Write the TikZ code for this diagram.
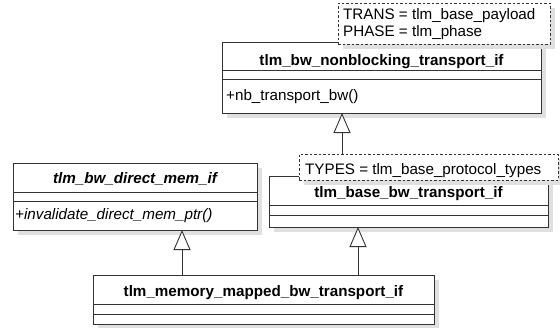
\documentclass[tikz,border=0pt]{standalone}
\usepackage{fontspec}
\setmainfont{Liberation Sans}
\usetikzlibrary{shadows,arrows.meta}
\definecolor{linec}{HTML}{333333}
\begin{document}
\begin{tikzpicture}[x=1pt,y=-1pt,
  font=\fontsize{15.2}{17}\selectfont,
  classbox/.style={draw=linec, fill=white, line width=0.9pt, inner sep=0pt, outer sep=0pt, anchor=north west,
    drop shadow={shadow xshift=5pt, shadow yshift=-5pt, fill=black!12, opacity=1}},
  notebox/.style={classbox, dashed, dash pattern=on 2.5pt off 2pt},
  sepline/.style={draw=linec, line width=0.9pt},
  ctitle/.style={font=\fontsize{15.2}{17}\selectfont\bfseries, inner sep=0pt, anchor=base},
  ctxt/.style={inner sep=0pt, anchor=base west},
  inherit/.style={draw=linec, line width=0.9pt, -{Triangle[open, length=20pt, width=17pt, fill=white]}}
]
\useasboundingbox (0,0) rectangle (560,327);

% tlm_bw_nonblocking_transport_if
\node[classbox, minimum width=319pt, minimum height=71pt] (nb) at (222,42) {};
\draw[sepline] (nb.west |- 0,70) -- (nb.east |- 0,70);
\draw[sepline] (nb.west |- 0,79) -- (nb.east |- 0,79);
\node[notebox, minimum width=212pt, minimum height=41pt] (n1) at (338,3) {};
\node[ctitle] (nbt) at (nb.north |- 0,65) {tlm\_bw\_nonblocking\_transport\_if};
\node[ctxt] (nbm) at (226,100) {+nb\_transport\_bw()};
\node[ctxt, align=left, anchor=north west] (n1t) at (343,8) {TRANS = tlm\_base\_payload\\PHASE = tlm\_phase};

% tlm_bw_direct_mem_if
\node[classbox, minimum width=244pt, minimum height=67pt] (dm) at (13,163) {};
\draw[sepline] (dm.west |- 0,192) -- (dm.east |- 0,192);
\draw[sepline] (dm.west |- 0,201) -- (dm.east |- 0,201);
\node[ctitle, font=\fontsize{15.2}{17}\selectfont\bfseries\itshape] (dmt) at (dm.north |- 0,183) {tlm\_bw\_direct\_mem\_if};
\node[ctxt, font=\fontsize{15.2}{17}\selectfont\itshape] (dmm) at (15,219) {+invalidate\_direct\_mem\_ptr()};

% tlm_base_bw_transport_if
\node[classbox, minimum width=279pt, minimum height=51pt] (bt) at (269,176) {};
\draw[sepline] (bt.west |- 0,205) -- (bt.east |- 0,205);
\draw[sepline] (bt.west |- 0,215) -- (bt.east |- 0,215);
\node[notebox, minimum width=259pt, minimum height=26pt] (n2) at (299,154) {};
\node[ctitle] (btt) at (bt.north |- 0,197) {tlm\_base\_bw\_transport\_if};
\node[ctxt] (n2t) at (305,174) {TYPES = tlm\_base\_protocol\_types};

% tlm_memory_mapped_bw_transport_if
\node[classbox, minimum width=341pt, minimum height=49pt] (mm) at (93,275) {};
\draw[sepline] (mm.west |- 0,304) -- (mm.east |- 0,304);
\draw[sepline] (mm.west |- 0,314) -- (mm.east |- 0,314);
\node[ctitle] (mmt) at (mm.north |- 0,296) {tlm\_memory\_mapped\_bw\_transport\_if};

% inheritance
\coordinate (a1) at (342,154);
\draw[inherit] (a1) -- (a1 |- nb.south);
\coordinate (a2) at (182,275);
\draw[inherit] (a2) -- (a2 |- dm.south);
\coordinate (a3) at (358,275);
\draw[inherit] (a3) -- (a3 |- bt.south);
\end{tikzpicture}
\end{document}
